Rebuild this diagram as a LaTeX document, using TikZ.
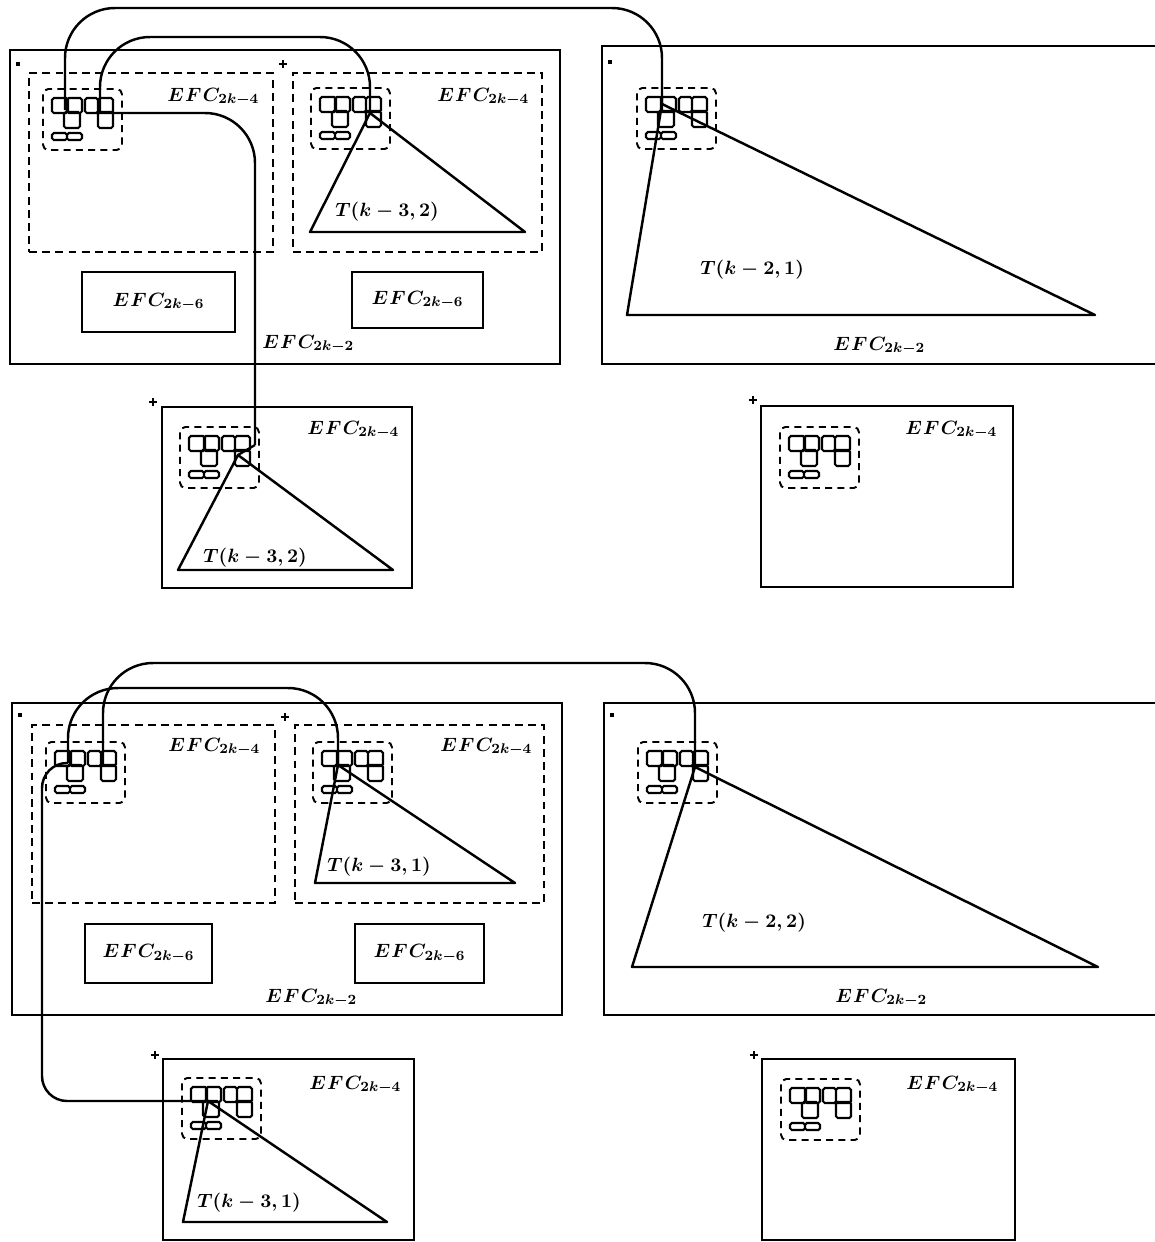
\documentclass[tikz,border=0pt]{standalone}
\usepackage{amsmath}
\usetikzlibrary{fit}
\newcommand{\efc}[1]{{\fontsize{11pt}{13pt}\selectfont\boldmath$E\mkern1mu F\mkern1mu C_{2k-#1}$}}
\newcommand{\tlab}[1]{{\fontsize{10.5pt}{12pt}\selectfont\boldmath$T(k-#1)$}}
\tikzset{
  ln/.style={line width=1.3pt, line join=round},
  bigbox/.style={draw, line width=1.2pt, inner sep=0pt},
  sbox/.style={draw, line width=1.2pt, inner sep=0pt},
  dbox/.style={draw, line width=1.2pt, inner sep=0pt, dash pattern=on 4.5pt off 3pt},
  conn/.style={line width=1.4pt, rounded corners=1cm},
  tri/.style={line width=1.4pt, line join=round},
  lab/.style={anchor=base west, inner sep=0pt},
  cluster/.pic={
    \draw[line width=1.1pt, dash pattern=on 4pt off 3pt, rounded corners=3pt] (0,0) rectangle (79,61);
    \draw[line width=1.2pt, rounded corners=1pt]
      (9,9) rectangle (25,24) (24,9) rectangle (39,24) (21,23) rectangle (37,39)
      (42,9) rectangle (55,24) (55,9) rectangle (70,24) (55,23) rectangle (70,39)
      (9,44) rectangle (24,51) (24,44) rectangle (39,51);
    \coordinate (-p1) at (22,21);
    \coordinate (-p2) at (57,22);
    \coordinate (-r) at (70,24);
  },
  dotmark/.pic={\fill (-2.2,-2.2) rectangle (2.2,2.2);},
  plusmark/.pic={\draw[line width=1.2pt] (-4,0) -- (4,0) (0,-4) -- (0,4);}
}
\begin{document}
\begin{tikzpicture}[x=0.02cm, y=-0.02cm]
\useasboundingbox (0,0) rectangle (1155,1242);
\clip (0,0) rectangle (1155,1242);

% ================= TOP HALF =================
\node[bigbox, fit={(10,50) (560,364)}] (B1) {};
\node[dbox, fit={(29,73) (273,252)}] (D1) {};
\node[dbox, fit={(293,73) (542,252)}] (D2) {};
\node[sbox, fit={(82,272) (235,332)}] (E1) {};
\node (E1t) at (E1.center) {\efc{6}};
\node[sbox, fit={(352,272) (483,328)}] (E2) {};
\node (E2t) at (E2.center) {\efc{6}};
\node[bigbox, fit={(602,46) (1175,364)}] (B2) {};
\node[sbox, fit={(162,407) (412,588)}] (B3) {};
\node[sbox, fit={(761,406) (1013,587)}] (B4) {};

\pic (m1) at (18,64) {dotmark};
\pic (m2) at (283,64) {plusmark};
\pic (m3) at (610,62) {dotmark};
\pic (m4) at (153,402) {plusmark};
\pic (m5) at (753,400) {plusmark};

\pic (c1) at (43,89) {cluster};
\pic (c2) at (311,88) {cluster};
\pic (c3) at (637,88) {cluster};
\pic (c4) at (180,427) {cluster};
\pic (c5) at (780,427) {cluster};

\coordinate (a2) at (370,113);
\coordinate (a3) at (662,104);
\coordinate (a4) at (238,455);
\draw[tri] (a2) -- (310,232) -- (525,232) -- cycle;
\draw[tri] (a3) -- (627,315) -- (1095,315) -- cycle;
\draw[tri] (a4) -- (178,570) -- (393,570) -- cycle;

\node[lab] (l1) at (167,101) {\efc{4}};
\node[lab] (l2) at (437,101) {\efc{4}};
\node[lab] (l3) at (262,348) {\efc{2}};
\node[lab] (l4) at (335,216) {\tlab{3,2}};
\node[lab] (l5) at (700,274) {\tlab{2,1}};
\node[lab] (l6) at (833,350) {\efc{2}};
\node[lab] (l7) at (307,434) {\efc{4}};
\node[lab] (l8) at (203,562) {\tlab{3,2}};
\node[lab] (l9) at (905,434) {\efc{4}};

\coordinate (yA) at (0,8);
\coordinate (yB) at (0,37);
\coordinate (kC) at (255,445);
\draw[conn] (c1-p1) -- (c1-p1 |- yA) -- (a3 |- yA) -- (a3);
\draw[conn] (c1-p2) -- (c1-p2 |- yB) -- (a2 |- yB) -- (a2);
\draw[conn] (c1-r) -| (kC);
\draw[ln] (kC) -- (a4);

% ================= BOTTOM HALF =================
\node[bigbox, fit={(12,703) (562,1015)}] (B5) {};
\node[dbox, fit={(32,725) (275,903)}] (D3) {};
\node[dbox, fit={(295,725) (544,903)}] (D4) {};
\node[sbox, fit={(85,924) (212,983)}] (E3) {};
\node (E3t) at (E3.center) {\efc{6}};
\node[sbox, fit={(355,924) (484,983)}] (E4) {};
\node (E4t) at (E4.center) {\efc{6}};
\node[bigbox, fit={(604,703) (1175,1015)}] (B6) {};
\node[sbox, fit={(163,1059) (414,1240)}] (B7) {};
\node[sbox, fit={(762,1059) (1015,1240)}] (B8) {};

\pic (m6) at (20,715) {dotmark};
\pic (m7) at (285,717) {plusmark};
\pic (m8) at (612,715) {dotmark};
\pic (m9) at (155,1055) {plusmark};
\pic (m10) at (754,1055) {plusmark};

\pic (c6) at (46,742) {cluster};
\pic (c7) at (313,742) {cluster};
\pic (c8) at (638,742) {cluster};
\pic (c9) at (182,1078) {cluster};
\pic (c10) at (781,1079) {cluster};

\coordinate (a7) at (338,765);
\coordinate (a8) at (695,767);
\coordinate (a9) at (208,1101);
\draw[tri] (a7) -- (315,883) -- (515,883) -- cycle;
\draw[tri] (a8) -- (632,967) -- (1098,967) -- cycle;
\draw[tri] (a9) -- (183,1222) -- (387,1222) -- cycle;

\node[lab] (l10) at (168,751) {\efc{4}};
\node[lab] (l11) at (440,751) {\efc{4}};
\node[lab] (l12) at (265,1002) {\efc{2}};
\node[lab] (l13) at (327,871) {\tlab{3,1}};
\node[lab] (l14) at (702,927) {\tlab{2,2}};
\node[lab] (l15) at (835,1002) {\efc{2}};
\node[lab] (l16) at (309,1089) {\efc{4}};
\node[lab] (l17) at (197,1207) {\tlab{3,1}};
\node[lab] (l18) at (906,1089) {\efc{4}};

\coordinate (yD) at (0,663);
\coordinate (yE) at (0,688);
\coordinate (kF) at (42,900);
\draw[conn] (c6-p2) -- (c6-p2 |- yD) -- (a8 |- yD) -- (a8);
\draw[conn] (c6-p1) -- (c6-p1 |- yE) -- (a7 |- yE) -- (a7);
\draw[conn, rounded corners=0.5cm] (c6-p1) -| (kF) |- (a9);
\end{tikzpicture}
\end{document}
